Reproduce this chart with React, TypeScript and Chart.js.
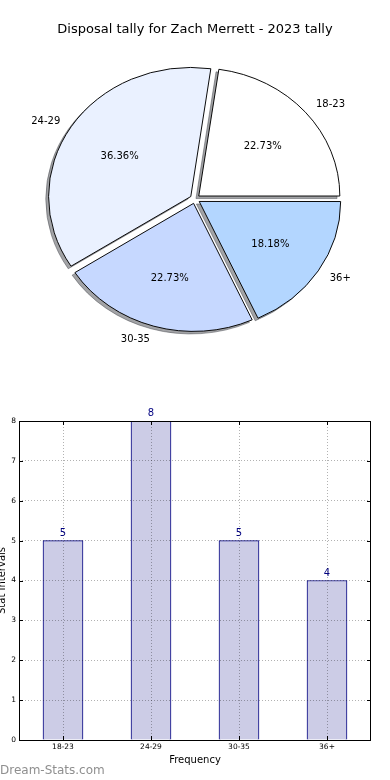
import React, { useEffect, useRef } from 'react';
import { Chart, registerables } from 'chart.js';

Chart.register(...registerables);

// ---------- data ----------
const categories = ['18-23', '24-29', '30-35', '36+'];
const counts = [5, 8, 5, 4];
const yTickMin = 0;
const yTickMax = 8;
const chartTitle = 'Disposal tally for Zach Merrett - 2023 tally';
const xAxisTitle = 'Frequency';
const yAxisTitle = 'Stat Intervals';
const watermark = 'Dream-Stats.com';

// ---------- styles ----------
const FONT = '"DejaVu Sans", "Liberation Sans", sans-serif';
const pieColors = ['#ffffff', '#eaf1ff', '#c6d8ff', '#b3d6ff'];
const barFill = '#ccccE6';
const barEdge = '#000080';
const PIE_R = 141;
const PIE_SY = 128 / 141;
const EXPLODE = 5;
const SHADOW = 2.8;
const TEXT_NUDGE = 1;

const total = counts.reduce((a, b) => a + b, 0);
// Chart.js draws clockwise; matplotlib counter-clockwise from east.
const pieOrder = counts.map((_, i) => counts.length - 1 - i);

const piePlugin = {
  id: 'pieDecor',
  beforeDatasetsDraw(chart: any) {
    const ctx = chart.ctx;
    const meta = chart.getDatasetMeta(0);
    const cy = meta.data[0].y;
    ctx.save();
    ctx.translate(0, cy);
    ctx.scale(1, PIE_SY);
    ctx.translate(0, -cy);
    // shadow pass, drawn with the library's own arc elements
    ctx.save();
    ctx.translate(-SHADOW, SHADOW);
    meta.data.forEach((el: any) => {
      const o = el.options;
      el.options = { ...o, backgroundColor: 'rgba(70,72,77,0.5)', borderColor: 'rgba(70,72,77,0.5)' };
      el.draw(ctx);
      el.options = o;
    });
    ctx.restore();
  },
  afterDatasetsDraw(chart: any) {
    const ctx = chart.ctx;
    ctx.restore();
    const meta = chart.getDatasetMeta(0);
    ctx.save();
    ctx.fillStyle = '#000';
    ctx.font = `10px ${FONT}`;
    ctx.textBaseline = 'middle';
    meta.data.forEach((el: any, j: number) => {
      const i = pieOrder[j];
      const { x, y, startAngle, endAngle } = el;
      const mid = (startAngle + endAngle) / 2;
      const c = Math.cos(mid);
      const s = Math.sin(mid);
      const at = (f: number) => [
        x + c * (EXPLODE + PIE_R * f),
        y + s * (EXPLODE + PIE_R * f) * PIE_SY + TEXT_NUDGE,
      ];
      const [lx, ly] = at(1.1);
      ctx.textAlign = c > 0 ? 'left' : 'right';
      ctx.fillText(categories[i], lx, ly);
      const [px, py] = at(0.6);
      ctx.textAlign = 'center';
      ctx.fillText(((counts[i] / total) * 100).toFixed(2) + '%', px, py);
    });
    ctx.font = `13px ${FONT}`;
    ctx.textAlign = 'center';
    ctx.fillText(chartTitle, chart.width / 2, 30);
    ctx.restore();
  },
};

const barPlugin = {
  id: 'barDecor',
  afterDatasetsDraw(chart: any) {
    const ctx = chart.ctx;
    const meta = chart.getDatasetMeta(0);
    ctx.save();
    ctx.fillStyle = barEdge;
    ctx.font = `10px ${FONT}`;
    ctx.textAlign = 'center';
    ctx.textBaseline = 'alphabetic';
    meta.data.forEach((bar: any, i: number) => {
      ctx.fillText(String(counts[i]), bar.x, bar.y - 5);
    });
    ctx.restore();
  },
  afterDraw(chart: any) {
    const ctx = chart.ctx;
    const { left, right, top, bottom } = chart.chartArea;
    const xs = chart.scales.x;
    const ys = chart.scales.y;
    ctx.save();
    ctx.strokeStyle = '#000';
    ctx.lineWidth = 1;
    ctx.beginPath();
    for (let v = yTickMin; v <= yTickMax; v++) {
      const py = Math.round(ys.getPixelForValue(v)) + 0.5;
      ctx.moveTo(left, py);
      ctx.lineTo(left + 4, py);
      ctx.moveTo(right, py);
      ctx.lineTo(right - 4, py);
    }
    categories.forEach((_, i) => {
      const px = Math.round(xs.getPixelForValue(i)) + 0.5;
      ctx.moveTo(px, bottom);
      ctx.lineTo(px, bottom - 4);
      ctx.moveTo(px, top);
      ctx.lineTo(px, top + 4);
    });
    ctx.stroke();
    ctx.strokeRect(Math.round(left) + 0.5, Math.round(top) + 0.5, Math.round(right - left) - 1, Math.round(bottom - top));
    ctx.fillStyle = '#8f8f8f';
    ctx.font = `12px ${FONT}`;
    ctx.textAlign = 'left';
    ctx.textBaseline = 'middle';
    ctx.fillText(watermark, 0, 371);
    ctx.restore();
  },
};

export default function App() {
  const pieRef = useRef<HTMLCanvasElement>(null);
  const barRef = useRef<HTMLCanvasElement>(null);

  useEffect(() => {
    const pie = new Chart(pieRef.current as HTMLCanvasElement, {
      type: 'pie',
      data: {
        labels: pieOrder.map((i) => categories[i]),
        datasets: [
          {
            data: pieOrder.map((i) => counts[i]),
            backgroundColor: pieOrder.map((i) => pieColors[i]),
            borderColor: '#000',
            borderWidth: 1,
            offset: EXPLODE * 4,
            hoverOffset: 0,
            radius: PIE_R,
          } as any,
        ],
      },
      options: {
        responsive: false,
        animation: false,
        devicePixelRatio: 1,
        events: [],
        rotation: 90,
        layout: { padding: 0 },
        plugins: { legend: { display: false }, tooltip: { enabled: false }, title: { display: false } },
      },
      plugins: [piePlugin],
    });

    const tickFont = { family: FONT, size: 7.5 };
    const bar = new Chart(barRef.current as HTMLCanvasElement, {
      type: 'bar',
      data: {
        labels: categories,
        datasets: [
          {
            data: counts,
            backgroundColor: barFill,
            borderColor: barEdge,
            borderWidth: 1,
            barThickness: 40,
          },
        ],
      },
      options: {
        responsive: false,
        animation: false,
        devicePixelRatio: 1,
        events: [],
        layout: { padding: { top: 21, right: 19, left: 0, bottom: 0 } },
        plugins: { legend: { display: false }, tooltip: { enabled: false } },
        scales: {
          x: {
            offset: true,
            grid: { offset: false, color: 'rgba(0,0,0,0.3)', drawTicks: false, z: 1 },
            border: { display: false, dash: [1, 2] },
            ticks: { font: tickFont, color: '#000', padding: 3, maxRotation: 0 },
            title: {
              display: true,
              text: xAxisTitle,
              color: '#000',
              font: { family: FONT, size: 10 },
              padding: { top: 0, bottom: 14 },
            },
            afterFit: (s: any) => {
              s.height = 40;
            },
          },
          y: {
            min: yTickMin,
            max: yTickMax,
            grid: { color: 'rgba(0,0,0,0.3)', drawTicks: false, z: 1 },
            border: { display: false, dash: [1, 2] },
            ticks: { stepSize: 1, font: tickFont, color: '#000', padding: 3 },
            title: {
              display: true,
              text: yAxisTitle,
              color: '#000',
              font: { family: FONT, size: 10, lineHeight: 0.5 },
              padding: 0,
            },
            afterFit: (s: any) => {
              s.width = 19;
            },
          },
        },
      },
      plugins: [barPlugin],
    });

    return () => {
      pie.destroy();
      bar.destroy();
    };
  }, []);

  return (
    <div style={{ position: 'absolute', left: 0, top: 0, width: 390, height: 780, background: '#fff' }}>
      <canvas ref={pieRef} width={390} height={398} style={{ position: 'absolute', left: 0, top: 0, display: 'block' }} />
      <canvas ref={barRef} width={390} height={380} style={{ position: 'absolute', left: 0, top: 400, display: 'block' }} />
    </div>
  );
}
